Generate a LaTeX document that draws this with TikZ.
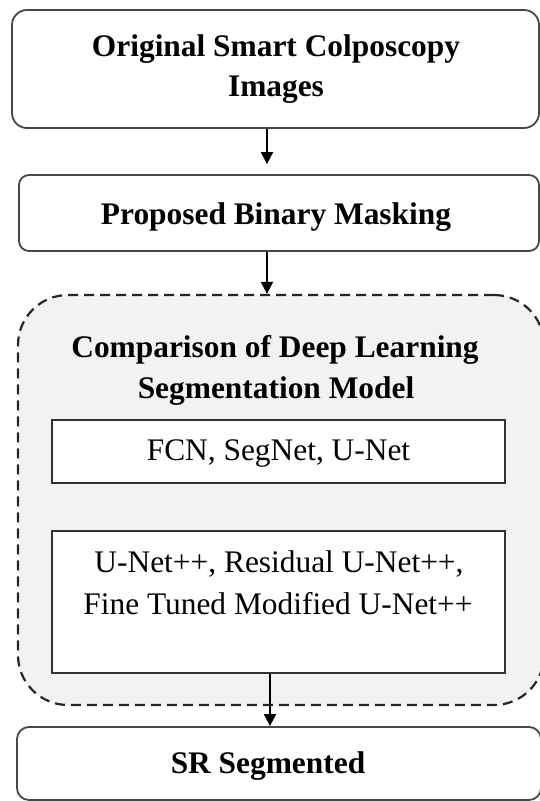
\documentclass[tikz,border=0pt]{standalone}
\usepackage{fontspec}
\setmainfont{Liberation Serif}
\usetikzlibrary{arrows.meta}
\begin{document}
\begin{tikzpicture}[x=1pt,y=-1pt,
  outerbox/.style={draw=black!72,line width=1.8pt,rounded corners=#1,fill=white,inner sep=0pt},
  innerbox/.style={draw=black!80,line width=1.8pt,fill=white,inner sep=0pt},
  groupbox/.style={draw=black!85,line width=2.2pt,dash pattern=on 10pt off 6pt,rounded corners=50pt,fill=black!5,inner sep=0pt},
  boldtxt/.style={anchor=base,inner sep=0pt,font=\fontsize{31.4}{36}\selectfont\bfseries},
  plaintxt/.style={anchor=base,inner sep=0pt,font=\fontsize{31.4}{36}\selectfont},
  arr/.style={draw=black,line width=1.8pt,-{Triangle[width=12pt,length=12pt]}}]
\useasboundingbox (0,0) rectangle (540,801);
\clip (0,0) rectangle (540,801);
\fill[white] (0,0) rectangle (540,801);

% boxes
\node[outerbox=15pt,minimum width=527pt,minimum height=118pt] (b1) at (275.5,69) {};
\node[outerbox=10pt,minimum width=520pt,minimum height=76pt] (b2) at (279,213) {};
\node[groupbox,minimum width=526pt,minimum height=410pt] (grp) at (281,500) {};
\node[innerbox,minimum width=453pt,minimum height=63pt] (m1) at (278.5,451.5) {};
\node[innerbox,minimum width=453pt,minimum height=142pt] (m2) at (278.5,602) {};
\node[outerbox=12pt,minimum width=524pt,minimum height=73pt] (sr) at (279,763.5) {};

% texts
\node[boldtxt] (t1a) at (276,56) {Original Smart Colposcopy};
\node[boldtxt] (t1b) at (276,96) {Images};
\node[boldtxt] (t2) at (276,224) {Proposed Binary Masking};
\node[boldtxt] (t3a) at (275,357) {Comparison of Deep Learning};
\node[boldtxt] (t3b) at (276,398) {Segmentation Model};
\node[plaintxt] (t4) at (278.5,460) {FCN, SegNet, U-Net};
\node[plaintxt] (t5a) at (279,572) {U-Net++, Residual U-Net++,};
\node[plaintxt] (t5b) at (278,614) {Fine Tuned Modified U-Net++};
\node[boldtxt] (t6) at (268,773) {SR Segmented};

% arrows
\draw[arr,shorten >=10pt] (b1.south -| 267,0) -- (b2.north -| 267,0);
\draw[arr] (b2.south -| 267,0) -- (grp.north -| 267,0);
\draw[arr] (m2.south -| 270,0) -- (sr.north -| 270,0);
\end{tikzpicture}
\end{document}
